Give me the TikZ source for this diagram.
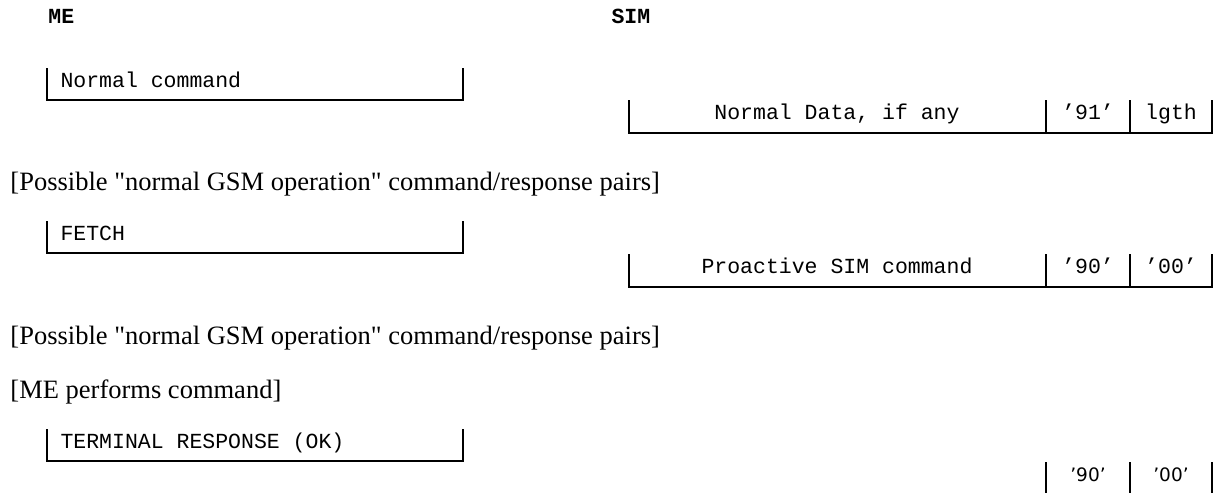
\documentclass[tikz,border=0pt]{standalone}
\usepackage{fontspec}
\setmainfont{Liberation Serif}[Ligatures=TeXOff]
\setmonofont{Liberation Mono}
\newfontfamily\sansdigits{DejaVu Sans}
\begin{document}
\begin{tikzpicture}[x=0.4pt,y=-0.4pt,
  frame/.style={line width=0.8pt},
  mono/.style={inner sep=0pt,anchor=base,font=\fontsize{8.6}{10}\selectfont\ttfamily},
  side/.style={inner sep=0pt,anchor=base west,font=\fontsize{8.6}{10}\selectfont\ttfamily\bfseries},
  note/.style={inner sep=0pt,anchor=base west,font=\fontsize{10.6}{12}\selectfont},
  digits/.style={inner sep=0pt,anchor=base,font=\sansdigits\fontsize{7.4}{9}\selectfont}]
\useasboundingbox (0,0) rectangle (1213,493);
\def\cmdbox#1{(47,#1) -- (47,#1+32) -- (463,#1+32) -- (463,#1)}
\def\rspbox#1{(629,#1) -- (629,#1+33) -- (1212,#1+33) -- (1212,#1)
  (1046,#1) -- (1046,#1+33) (1130,#1) -- (1130,#1+33)}
% headings
\node[side] (me) at (48,23) {ME};
\node[side] (sim) at (611,23) {SIM};
% normal command
\draw[frame] \cmdbox{68};
\node[mono,anchor=base west] (normal) at (60,87) {Normal command};
\draw[frame] \rspbox{100};
\node[mono] (data) at (837,119) {Normal Data, if any};
\node[mono] (sw) at (1088,119) {’91’};
\node[mono] (lgth) at (1171,119) {lgth};
\node[note] (pairsa) at (10,190) {[Possible "normal GSM operation" command/response pairs]};
% fetch
\draw[frame] \cmdbox{221};
\node[mono,anchor=base west] (fetch) at (60,240) {FETCH};
\draw[frame] \rspbox{254};
\node[mono] (proactive) at (837,273) {Proactive SIM command};
\node[mono] (swa) at (1088,273) {’90’};
\node[mono] (swb) at (1171,273) {’00’};
\node[note] (pairsb) at (10,344) {[Possible "normal GSM operation" command/response pairs]};
\node[note] (perform) at (10,398) {[ME performs command]};
% terminal response
\draw[frame] \cmdbox{429};
\node[mono,anchor=base west] (terminal) at (60,448) {TERMINAL RESPONSE (OK)};
\draw[frame] (1046,462) -- (1046,493) (1130,462) -- (1130,493) (1212,462) -- (1212,493);
\node[digits] (swc) at (1088,481) {’90’};
\node[digits] (swd) at (1171,481) {’00’};
\end{tikzpicture}
\end{document}
